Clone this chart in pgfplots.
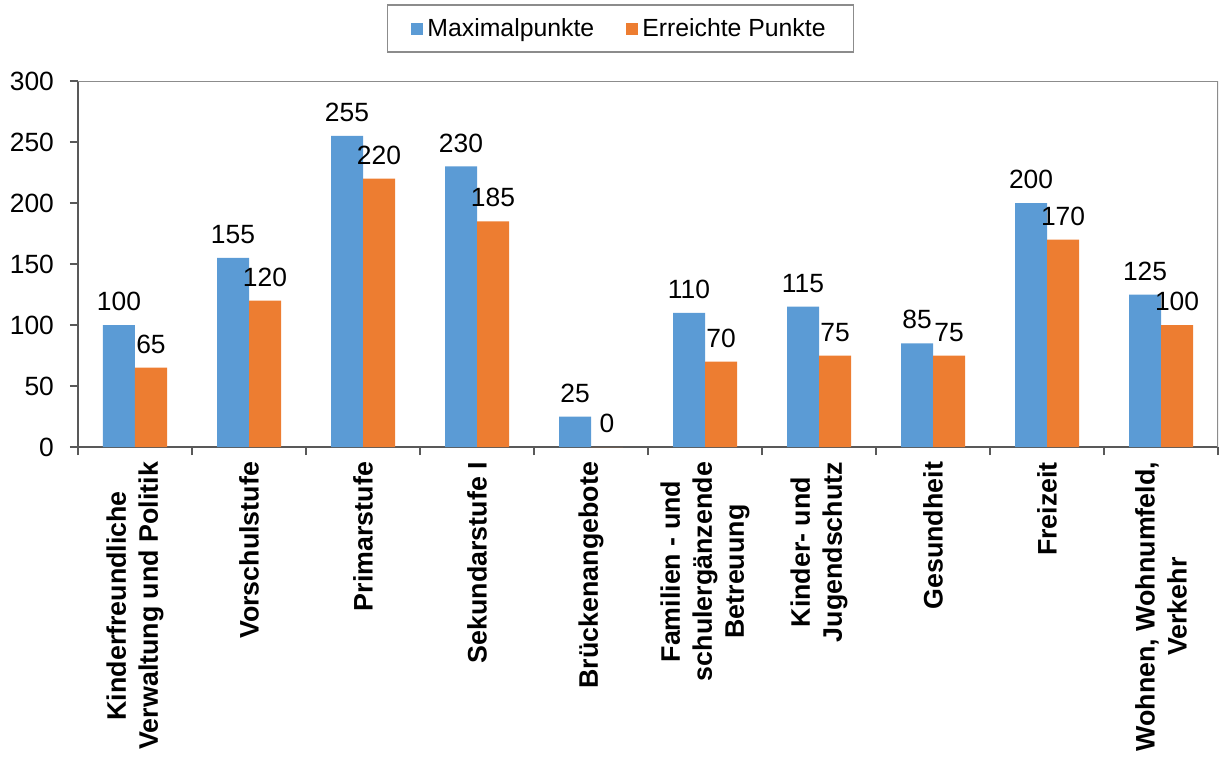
\documentclass[border=0pt]{standalone}
\usepackage{fontspec}
\setmainfont{Liberation Sans}
\usepackage{pgfplots}
\pgfplotsset{compat=1.18}
\definecolor{maxblue}{HTML}{5B9BD5}
\definecolor{reachorange}{HTML}{ED7D31}
\definecolor{axisgray}{HTML}{595959}
\definecolor{framegray}{HTML}{8C8C8C}
\pgfplotsset{/pgf/number format/assume math mode=true}

\begin{document}
\begin{tikzpicture}
\path[use as bounding box] (-39pt,-154.5pt) rectangle (570.5pt,223.5pt);
\begin{axis}[
  scale only axis,
  width=570pt, height=183pt,
  ymin=0, ymax=300,
  ytick={0,50,...,300},
  xmin=-0.5, xmax=9.5,
  xtick={0,...,9},
  minor xtick={-0.5,0.5,...,9.5},
  xticklabels={
    {Kinderfreundliche\\Verwaltung und Politik},
    Vorschulstufe,
    Primarstufe,
    Sekundarstufe I,
    Brückenangebote,
    {Familien - und\\schulergänzende\\Betreuung},
    {Kinder- und\\Jugendschutz},
    Gesundheit,
    Freizeit,
    {Wohnen, Wohnumfeld,\\Verkehr}},
  ybar=0pt, bar width=16pt,
  axis lines*=left,
  axis line style={axisgray, line width=0.8pt},
  tick align=outside,
  major tick length=4pt,
  minor tick length=4pt,
  tick style={axisgray, line width=0.8pt},
  major x tick style={draw=none},
  yticklabel style={font=\fontsize{13.2}{15}\selectfont, text=black, xshift=-4.5pt},
  xticklabel style={rotate=90, anchor=east, align=center,
    font=\bfseries\fontsize{13.4}{16}\selectfont, text=black},
  nodes near coords,
  every node near coord/.append style={font=\fontsize{13.2}{15}\selectfont, text=black, yshift=3.5pt},
  legend columns=2,
  legend image code/.code={\fill[#1] (3pt,-3pt) rectangle (9pt,3pt);},
  legend style={at={(rel axis cs:0.4759,1)}, anchor=south, yshift=14pt,
    draw=framegray, line width=0.8pt, inner xsep=12pt, inner ysep=4.5pt,
    font=\fontsize{12.4}{14}\selectfont,
    /tikz/every even column/.append style={column sep=14pt}},
]
\addplot[fill=maxblue, draw=none] coordinates {
  (0,100) (1,155) (2,255) (3,230) (4,25) (5,110) (6,115) (7,85) (8,200) (9,125)};
\addlegendentry{Maximalpunkte}
\addplot[fill=reachorange, draw=none] coordinates {
  (0,65) (1,120) (2,220) (3,185) (4,0) (5,70) (6,75) (7,75) (8,170) (9,100)};
\addlegendentry{Erreichte Punkte}
\draw[framegray, line width=0.8pt] (rel axis cs:0,1) -- (rel axis cs:1,1) -- (rel axis cs:1,0);
\end{axis}
\end{tikzpicture}
\end{document}
